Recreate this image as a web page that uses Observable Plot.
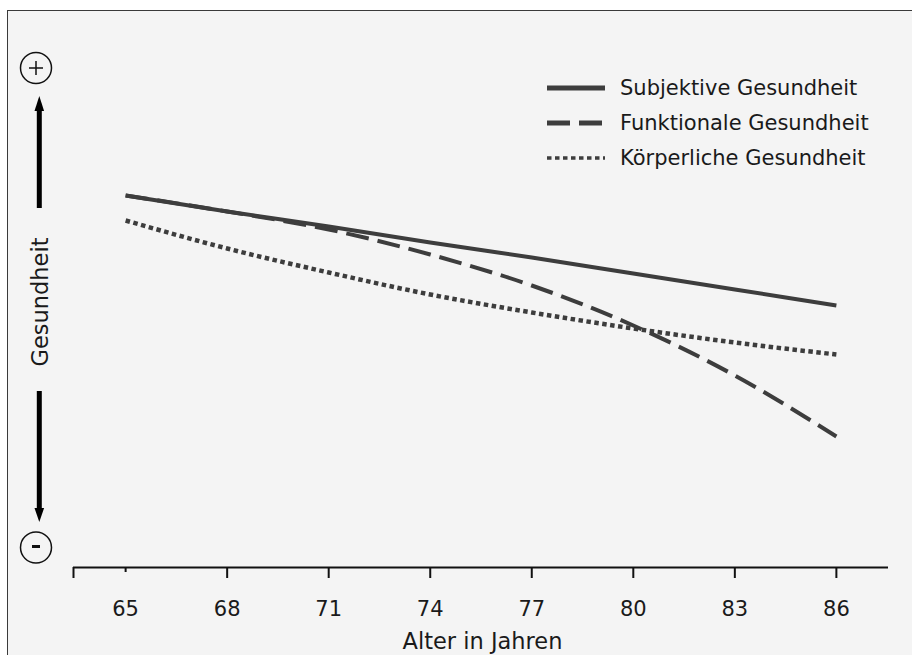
<!DOCTYPE html>
<html><head><meta charset="utf-8">
<script src="https://cdn.jsdelivr.net/npm/d3@7"></script>
<script src="https://cdn.jsdelivr.net/npm/@observablehq/plot@0.6"></script>
<style>
html,body{margin:0;padding:0;background:#fff;}
body{width:912px;height:655px;overflow:hidden;position:relative;font-family:"DejaVu Sans",sans-serif;}
#frame{position:absolute;left:7px;top:10px;right:-10px;bottom:-10px;border-top:1.5px solid #3a3a3a;border-left:1.5px solid #3a3a3a;background:#f4f4f4;}
#chart{position:absolute;left:0;top:0;}
</style></head><body>
<div id="frame"></div><div id="chart"></div>
<script>
// Data (health index, arbitrary units 0–100)
const ages = [65, 68, 71, 74, 77, 80, 83, 86];
const subjektiv   = [74.4, 71.2, 68.2, 65.0, 62.0, 58.8, 55.6, 52.4];
const funktional  = [74.4, 71.2, 67.6, 62.6, 56.4, 48.4, 38.4, 26.2];
const koerperlich = [69.4, 63.8, 59.0, 54.6, 51.0, 47.8, 45.0, 42.6];
const seriesNames = ["Subjektive Gesundheit", "Funktionale Gesundheit", "Körperliche Gesundheit"];
const xTicks = [65, 68, 71, 74, 77, 80, 83, 86];
const xLabel = "Alter in Jahren";
const yLabel = "Gesundheit";

const lineColor = "#3d3d3d";
const dashes = [null, "23,9", "4.5,3.5"];
const toRows = (vals) => ages.map((a, i) => ({age: a, value: vals[i]}));
const series = [subjektiv, funktional, koerperlich].map(toRows);

const xDomain = [63.46, 87.54];
const W = 912, H = 655, mL = 73, mR = 24, mT = 67, mB = 88;

const plot = Plot.plot({
  width: W, height: H,
  marginLeft: mL, marginRight: mR, marginTop: mT, marginBottom: mB,
  style: {background: "transparent", fontFamily: "DejaVu Sans", fontSize: "21px", color: "#1a1a1a", overflow: "visible"},
  x: {domain: xDomain, axis: null},
  y: {domain: [0, 100], axis: null},
  marks: [
    Plot.ruleY([0], {stroke: "#111", strokeWidth: 2}),
    Plot.axisX({ticks: xTicks, tickSize: 0, tickPadding: 34, label: null, tickFormat: d => String(d)}),
    Plot.axisX({ticks: [xDomain[0], ...xTicks.slice(1)], tickSize: 11, fill: "none", stroke: "#111", strokeWidth: 2, label: null}),
    Plot.axisX({ticks: [xTicks[0]], tickSize: 5, fill: "none", stroke: "#111", strokeWidth: 2, label: null}),
    ...series.map((rows, i) => Plot.line(rows, {
      x: "age", y: "value", curve: "monotone-x",
      stroke: lineColor, strokeWidth: i === 2 ? 4.5 : 4,
      strokeDasharray: dashes[i] ?? undefined,
      strokeLinecap: "butt"
    }))
  ]
});
document.getElementById("chart").append(plot);

// Annotations
const svg = d3.select(plot);
const g = svg.append("g").attr("fill", "#1a1a1a").attr("font-family", "DejaVu Sans").attr("text-anchor", "start");

// x-axis title
g.append("text").attr("x", (mL + W - mR) / 2 + 2).attr("y", 649)
  .attr("text-anchor", "middle").attr("font-size", 22.5).text(xLabel);

// y-axis indicator
const ax = 39.3;
g.append("circle").attr("cx", 36).attr("cy", 68).attr("r", 15.5).attr("fill", "none").attr("stroke", "#111").attr("stroke-width", 1.5);
g.append("path").attr("d", "M29,68H43M36,61V75").attr("stroke", "#111").attr("stroke-width", 1.5);
g.append("line").attr("x1", ax).attr("x2", ax).attr("y1", 208).attr("y2", 108).attr("stroke", "#000").attr("stroke-width", 5);
g.append("path").attr("d", `M${ax},96L${ax-4.8},111L${ax+4.8},111Z`).attr("fill", "#000");
g.append("line").attr("x1", ax).attr("x2", ax).attr("y1", 391).attr("y2", 511).attr("stroke", "#000").attr("stroke-width", 5);
g.append("path").attr("d", `M${ax},522L${ax-4.8},508L${ax+4.8},508Z`).attr("fill", "#000");
g.append("circle").attr("cx", 36).attr("cy", 547.5).attr("r", 15.5).attr("fill", "none").attr("stroke", "#111").attr("stroke-width", 1.5);
g.append("rect").attr("x", 32).attr("y", 545).attr("width", 8).attr("height", 3).attr("fill", "#111");
g.append("text").attr("transform", "translate(40,302) rotate(-90)")
  .attr("text-anchor", "middle").attr("dy", "0.35em").attr("font-size", 22.5).text(yLabel);

// Legend
const legY = [88, 123, 158];
const legW = [5, 5, 3.5];
seriesNames.forEach((name, i) => {
  g.append("line").attr("x1", 547).attr("x2", 605).attr("y1", legY[i]).attr("y2", legY[i])
    .attr("stroke", lineColor).attr("stroke-width", legW[i])
    .attr("stroke-dasharray", dashes[i]).attr("stroke-linecap", "butt");
  g.append("text").attr("x", 620).attr("y", legY[i]).attr("dy", "0.35em")
    .attr("text-anchor", "start").attr("font-size", 21).text(name);
});
</script>
</body></html>
